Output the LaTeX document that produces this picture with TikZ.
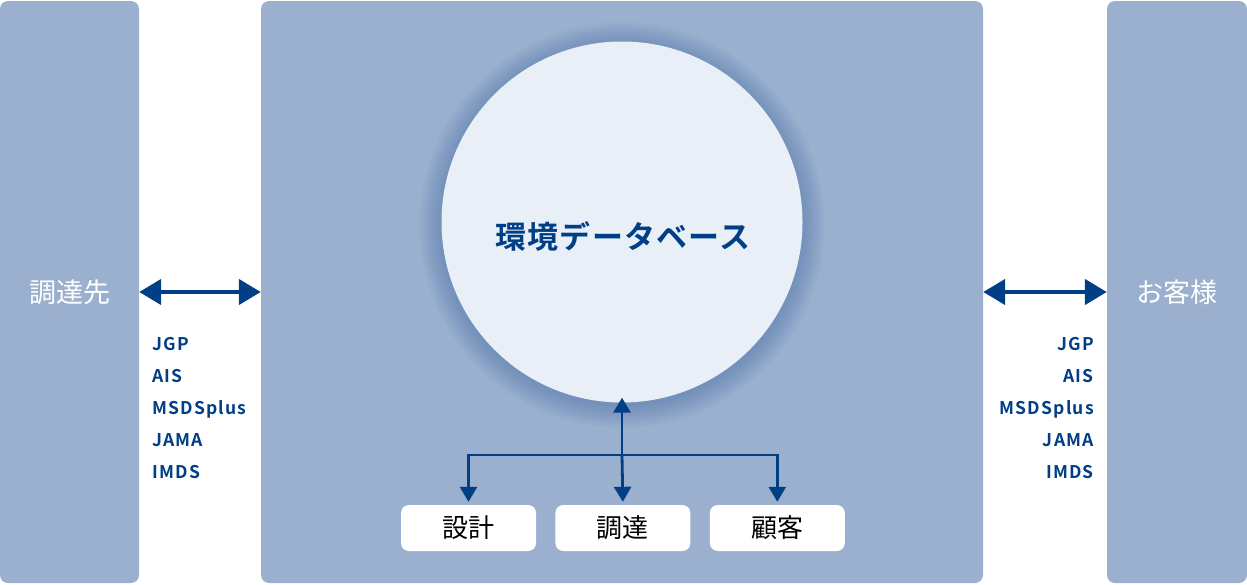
\documentclass[tikz,border=0pt]{standalone}
\usepackage{fontspec}
\setmainfont{Noto Sans CJK JP}[BoldFont={Noto Sans CJK JP Bold}]
\usetikzlibrary{arrows.meta,shapes,positioning}

\definecolor{boxblue}{HTML}{9BB0CF}
\definecolor{dbfill}{HTML}{E9EFF7}
\definecolor{darkblue}{HTML}{003E86}
\definecolor{glowblue}{HTML}{3F68A6}

\tikzset{
  column/.style={fill=boxblue, rounded corners=8pt, minimum width=139pt, minimum height=582pt,
    text=white, font=\fontsize{27}{27}\selectfont, inner sep=0pt},
  dept/.style={fill=white, rounded corners=8pt, minimum width=135pt, minimum height=46pt,
    font=\fontsize{26}{26}\selectfont, inner sep=0pt},
  std/.style={text=darkblue, font=\bfseries\fontsize{17.5}{17.5}\selectfont\addfontfeature{LetterSpace=7}, inner sep=0pt,
    text height=12.5pt, text depth=0pt},
  bigarrow/.style={draw=darkblue, line width=4.5pt, {Triangle[length=22pt,width=25pt]}-{Triangle[length=22pt,width=25pt]}},
  thinarrow/.style={draw=darkblue, line width=2.8pt, -{Triangle[length=15pt,width=17pt]}}
}

\begin{document}
\begin{tikzpicture}[x=1pt, y=-1pt, node distance=19pt and 19pt]
      \useasboundingbox (0,0) rectangle (1247,584);

      \node[column] (supplier) at (69.5,292) {調達先};
      \node[column, minimum width=722pt] (main) at (622,292) {};
      \node[column, minimum width=140pt] (customer) at (1177,292) {お客様};

      % glow round the database
      \foreach \r in {0,2,...,22}
        \fill[glowblue, opacity=0.04] (622,225) circle (181pt+\r pt);

      \node[circle, fill=dbfill, minimum size=361pt, inner sep=0pt] (db) at (622,222) {};
      \node[text=darkblue, font=\fontsize{31}{31}\selectfont\bfseries\addfontfeature{LetterSpace=4}] (dblabel) at (623,236) {環境データベース};

      \node[dept] (design) at (468.5,528) {設計};
      \node[dept] (procure) [right=of design] {調達};
      \node[dept] (client) [right=of procure] {顧客};

      \coordinate (hub) at (622,455);

      \draw[bigarrow] (supplier.east) -- (main.west);
      \draw[bigarrow] (main.east) -- (customer.west);

      \draw[thinarrow, shorten >=-5pt] (hub) -- (db.south);
      \draw[thinarrow, shorten >=3pt] (hub) -| (design.north);
      \draw[thinarrow, shorten >=3pt] (hub) -- (procure.north);
      \draw[thinarrow, shorten >=3pt] (hub) -| (client.north);

      \foreach \t [count=\i] in {JGP,AIS,MSDSplus,JAMA,IMDS} {
        \node[std, anchor=west] (sup\i) at (152,312.5+32*\i) {\t};
        \node[std, anchor=east] (cus\i) at (1094,312.5+32*\i) {\t};
      }
    \end{tikzpicture}
\end{document}
